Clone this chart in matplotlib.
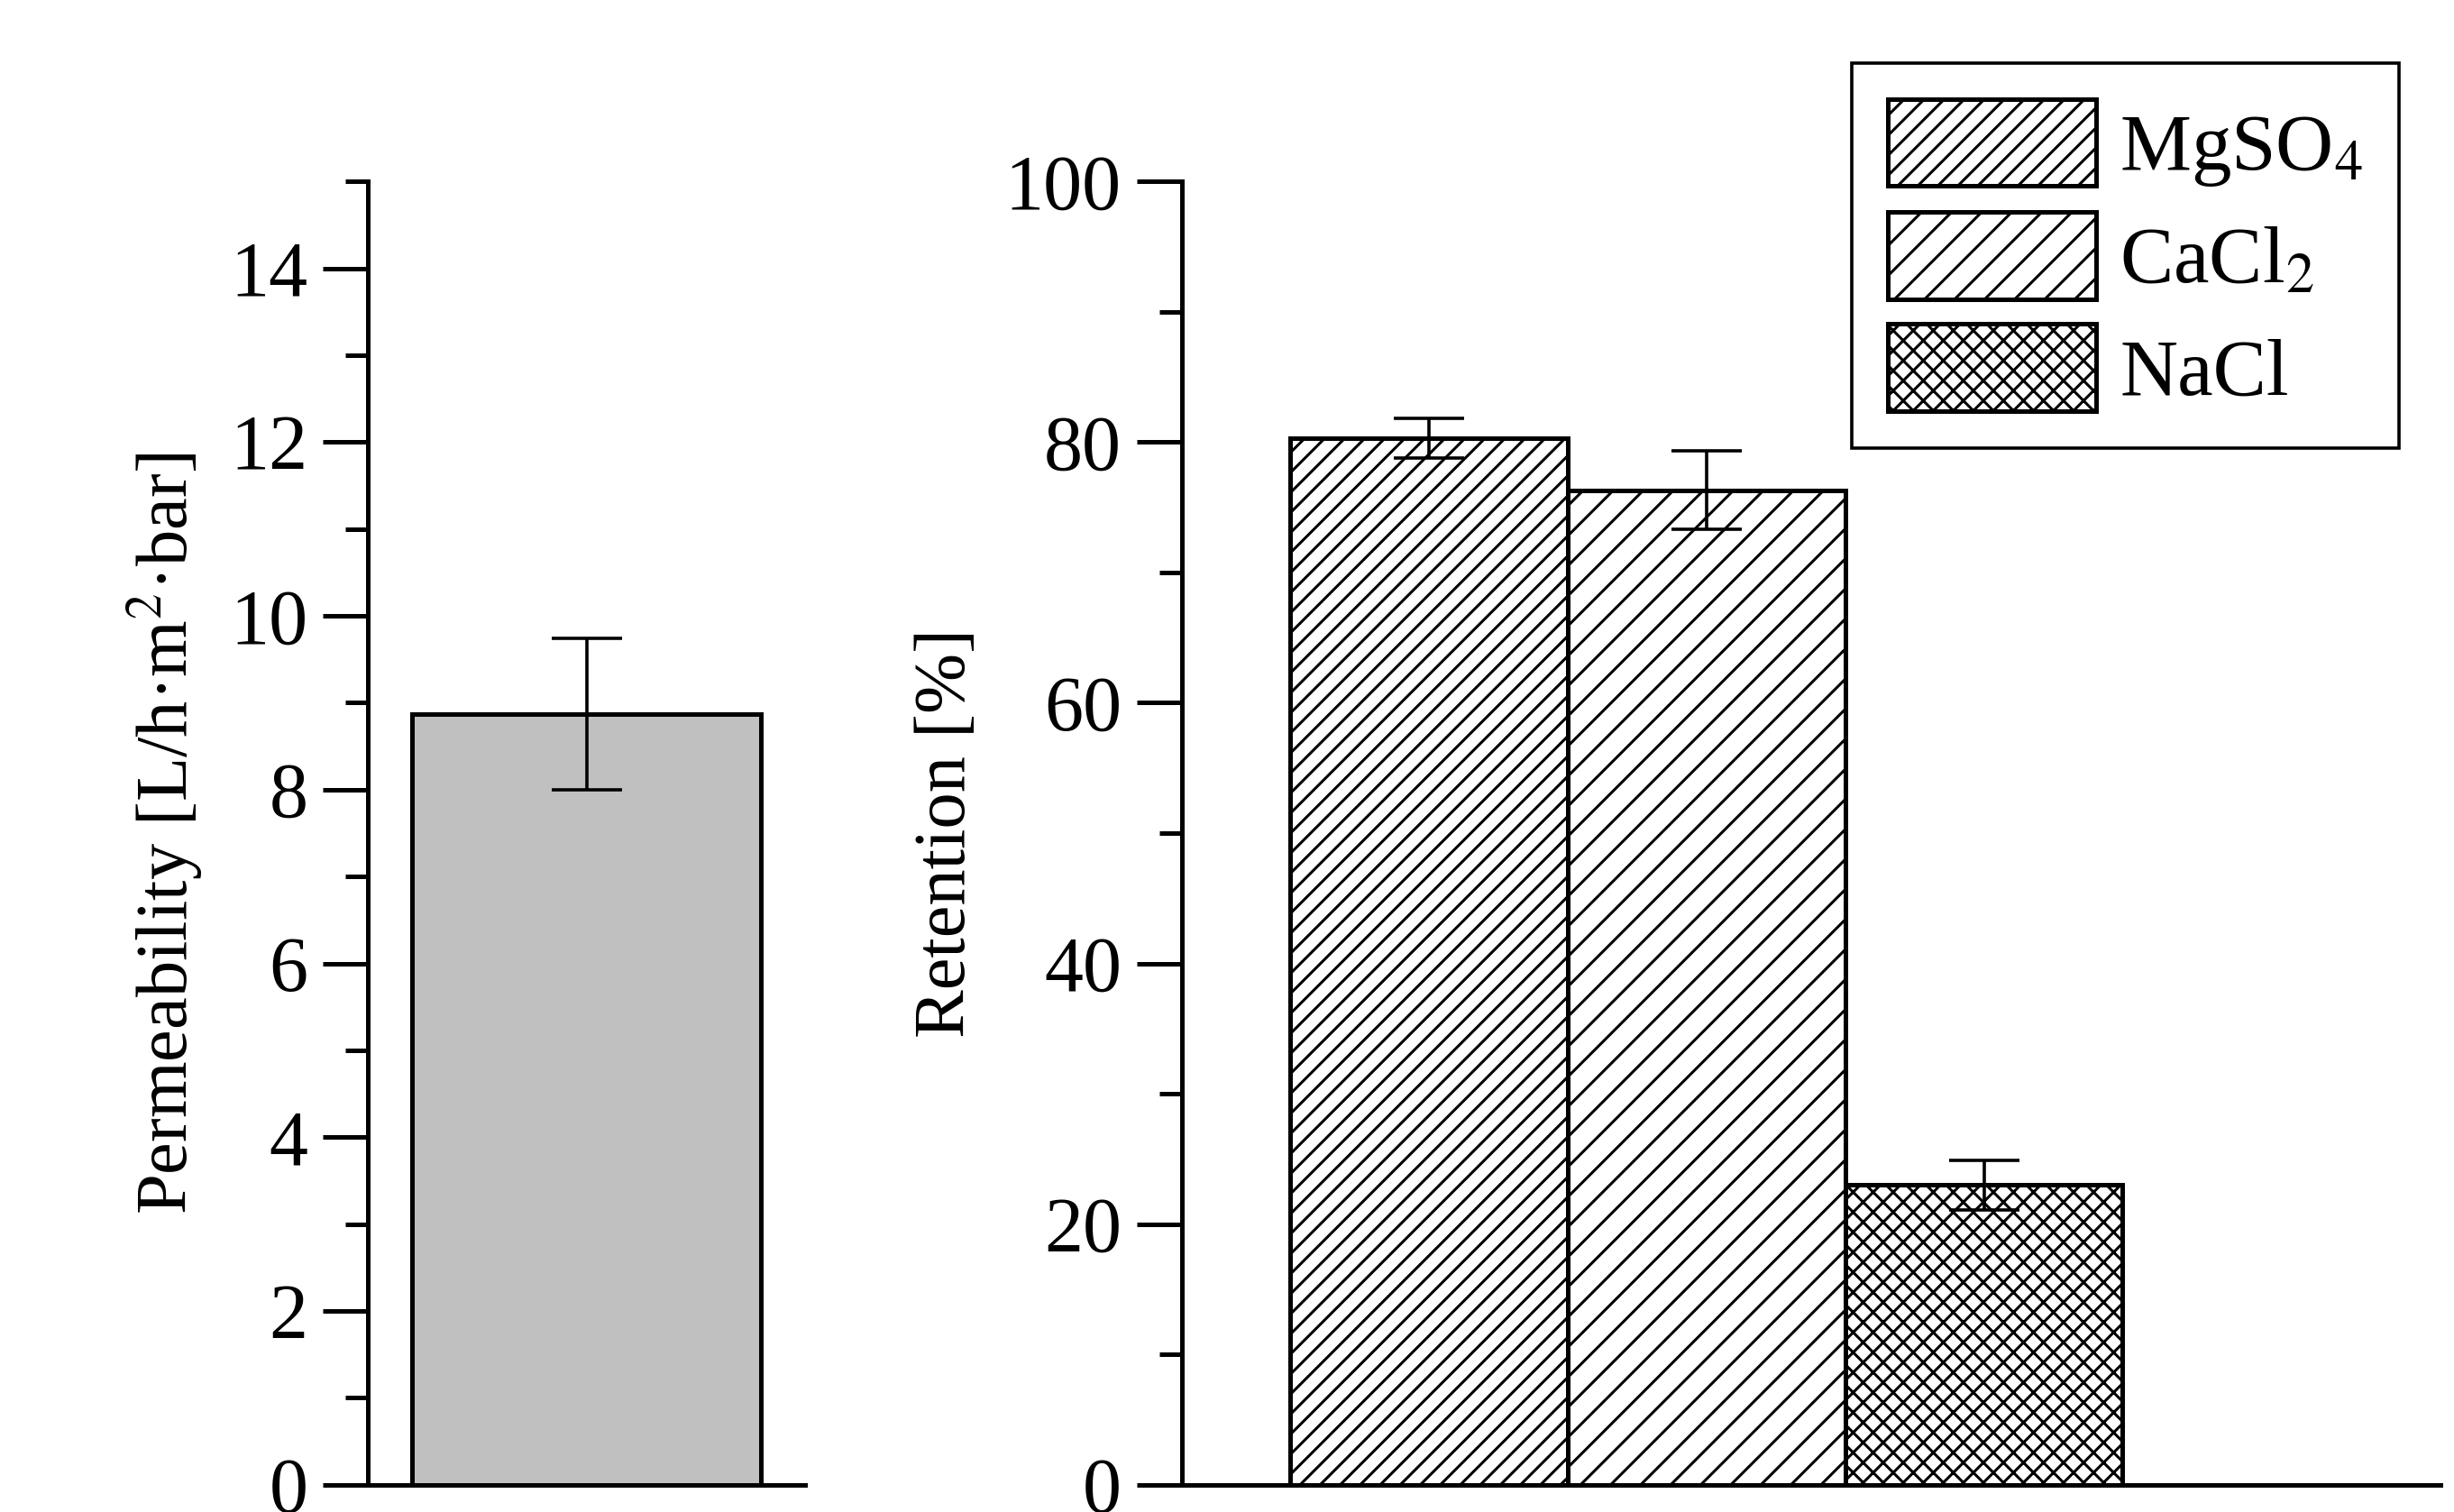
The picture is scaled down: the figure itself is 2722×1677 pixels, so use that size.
import matplotlib.pyplot as plt
import numpy as np
from matplotlib.ticker import MultipleLocator

perm_value = [8.87]
perm_err = [0.87]

salts = ['MgSO$_4$', 'CaCl$_2$', 'NaCl']
retention = [80.3, 76.3, 23.0]
retention_err = [1.5, 3.0, 1.9]
hatches = ['///', '//', 'xxx']

plt.rcParams['font.family'] = ['Liberation Serif', 'DejaVu Serif']
plt.rcParams['mathtext.fontset'] = 'stix'
plt.rcParams['hatch.linewidth'] = 1.1

fig = plt.figure(figsize=(13.61, 8.385), dpi=200)
ax1 = fig.add_axes([0.150, 0.018, 0.178, 0.862])
ax2 = fig.add_axes([0.4815, 0.018, 0.513, 0.862])

ax1.bar([0], perm_value, width=1, color='#c0c0c0', edgecolor='black', linewidth=1.8)
ax1.errorbar([0], perm_value, yerr=perm_err, fmt='none', ecolor='black',
             elinewidth=1.3, capsize=14, capthick=1.3)
ax1.set_xlim(-0.625, 0.625)
ax1.set_ylim(0, 15)
ax1.yaxis.set_major_locator(MultipleLocator(2))
ax1.yaxis.set_minor_locator(MultipleLocator(1))
ax1.set_ylabel('Permeability [L/h·m$^2$·bar]', fontsize=29, labelpad=10)

x = np.arange(len(salts))
for i in range(len(salts)):
    ax2.bar(x[i], retention[i], width=1, color='white', edgecolor='black',
            linewidth=1.8, hatch=hatches[i], label=salts[i])
ax2.errorbar(x, retention, yerr=retention_err, fmt='none', ecolor='black',
             elinewidth=1.3, capsize=14, capthick=1.3)
ax2.set_xlim(-0.89, 3.645)
ax2.set_ylim(0, 100)
ax2.yaxis.set_major_locator(MultipleLocator(20))
ax2.yaxis.set_minor_locator(MultipleLocator(10))
ax2.set_ylabel('Retention [%]', fontsize=29, labelpad=10)

for ax in (ax1, ax2):
    for s in ('top', 'right'):
        ax.spines[s].set_visible(False)
    for s in ('left', 'bottom'):
        ax.spines[s].set_linewidth(1.8)
    ax.set_xticks([])
    ax.tick_params(axis='y', which='major', length=18, width=1.8, labelsize=31, pad=6)
    ax.tick_params(axis='y', which='minor', length=9, width=1.8)

leg = fig.legend(loc='upper right', bbox_to_anchor=(0.994, 0.985), fontsize=32,
                 handlelength=2.6, handleheight=1.3, fancybox=False,
                 edgecolor='black', framealpha=1, borderpad=0.45,
                 labelspacing=0.3, handletextpad=0.3)
leg.get_frame().set_linewidth(1.3)
for p in leg.get_patches():
    p.set_linewidth(1.8)

fig.savefig('out.png', dpi=200)
